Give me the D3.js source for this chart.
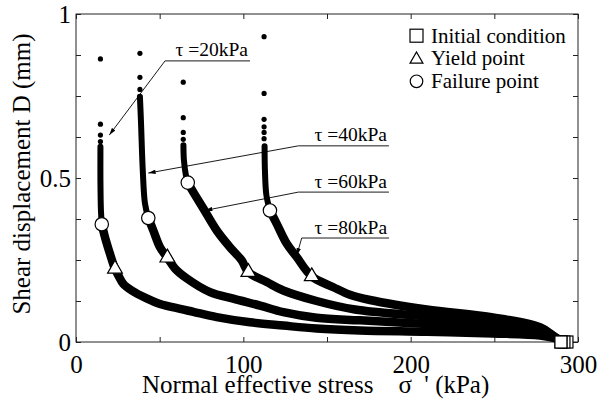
<!DOCTYPE html>
<html>
<head>
<meta charset="utf-8">
<script src="https://cdnjs.cloudflare.com/ajax/libs/d3/7.8.5/d3.min.js"></script>
<style>
body{margin:0;background:#fff;}
</style>
</head>
<body>
<div id="chart"></div>
<script>
// values, [sigma' (kPa), D (mm)], from the top of the dense part down to the start
var tau20_band=[[14.6,0.595],[14.6,0.493],[14.9,0.401],[15.4,0.359],[17.3,0.320],[20.3,0.269],[23.3,0.223],
    [25.3,0.203],[28.3,0.177],[33.3,0.157],[42.2,0.133],[50.2,0.116],[62.2,0.101],[70.1,0.092],[84.1,0.076],
    [104,0.060],[123.9,0.050],[143.8,0.041],[169.7,0.035],[209.6,0.031],[249.2,0.026],[277.3,0.020],[286.9,0.011],[293.4,0]];
var tau40_band=[[38.2,0.748],[38.8,0.676],[39.9,0.524],[41.2,0.423],[43.2,0.378],[46.2,0.340],[50.2,0.289],
    [54.6,0.257],[59.2,0.224],[66.2,0.194],[80.1,0.152],[94.0,0.132],[110,0.111],[123.9,0.091],[143.8,0.074],
    [169.7,0.066],[209.6,0.055],[249.2,0.042],[277.3,0.029],[286.3,0.014],[291.6,0]];
var tau60_band=[[64.2,0.600],[64.5,0.554],[65.7,0.508],[66.8,0.486],[70.1,0.457],[76.1,0.407],[84.1,0.340],
    [92,0.289],[99,0.249],[103,0.213],[114,0.183],[123.9,0.157],[143.8,0.125],[166.7,0.099],[209.6,0.078],
    [249.2,0.058],[277.3,0.036],[285.7,0.017],[289.8,0]];
var tau80_band=[[112.7,0.597],[112.9,0.524],[113.8,0.447],[115.9,0.401],[119.9,0.361],[125.9,0.300],[131.9,0.259],
    [140.9,0.200],[153.8,0.167],[163.7,0.144],[175.7,0.128],[209.6,0.099],[249.2,0.075],[277.3,0.045],[285,0.020],[289.8,0]];

// isolated points above the dense part
var tau20_top=[[14.6,0.863],[14.6,0.664],[14.6,0.631],[14.6,0.611]];
var tau40_top=[[38.2,0.880],[38.2,0.807],[38.2,0.770]];
var tau60_top=[[64.1,0.792],[64.1,0.684],[64.1,0.639],[64.1,0.618]];
var tau80_top=[[112.4,0.931],[112.4,0.758],[112.4,0.679],[112.4,0.656],[112.4,0.639],[112.4,0.620]];

var initial=[[293.4,0],[291.6,0],[289.8,0],[289.8,0]];
var yield_pt=[[23.3,0.223],[54.6,0.257],[103,0.213],[140.9,0.200]];
var failure=[[15.4,0.359],[43.2,0.378],[66.8,0.486],[115.9,0.401]];

// labels and their leaders
var labels=["τ =20kPa","τ =40kPa","τ =60kPa","τ =80kPa"];
var label_x0=[53.2,132.9,132.9,134.9];
var label_x1=[104.0,187,187,187.1];
var label_y=[0.857,0.598,0.457,0.317];
var arrow_tip=[[19.9,0.631],[43.2,0.515],[77.1,0.401],[131.9,0.264]];

var legend_items=["Initial condition","Yield point","Failure point"];
var x_labels=[0,100,200,300];
var y_labels=[0,0.5,1];

var bands=[tau20_band,tau40_band,tau60_band,tau80_band];
var tops=[tau20_top,tau40_top,tau60_top,tau80_top];

var serif="Liberation Serif";

// =====================
var margin = {top: 14, right: 27, bottom: 68, left: 76},
    width = 605 - margin.left - margin.right,
    height = 410 - margin.top - margin.bottom;

var root = d3.select("#chart")
    .append("svg")
    .attr("width", 605)
    .attr("height", 410)
    .style("font-family", serif);

var defs = root.append("defs");
defs.append("marker")
    .attr("id","arrow")
    .attr("viewBox","0 0 10 6")
    .attr("refX",10).attr("refY",3)
    .attr("markerWidth",8).attr("markerHeight",4.4)
    .attr("markerUnits","userSpaceOnUse")
    .attr("orient","auto")
    .append("path")
    .attr("d","M0,0L10,3L0,6Z")
    .attr("fill","#000");

var svg = root.append("g")
    .attr("transform","translate(" + margin.left + "," + margin.top + ")");

var x = d3.scaleLinear().domain([0,300]).range([0,width]);
var y = d3.scaleLinear().domain([0,1]).range([height,0]);

function style_axis(g){
    g.select(".domain").remove();
    g.selectAll(".tick line").attr("stroke","#222");
    g.attr("font-size",25).attr("font-family",null);
    g.selectAll("text").attr("fill","#000").style("font-family",serif);
}

svg.append("g")
    .attr("transform","translate(0," + height + ")")
    .call(d3.axisBottom(x).tickValues(d3.range(0,301,50)).tickSizeInner(-5).tickSizeOuter(0).tickPadding(13)
        .tickFormat(d => x_labels.includes(d) ? d : ""))
    .call(style_axis);

svg.append("g")
    .call(d3.axisTop(x).tickValues(d3.range(0,301,50)).tickSizeInner(-5).tickSizeOuter(0).tickFormat(""))
    .call(style_axis);

svg.append("g")
    .call(d3.axisLeft(y).tickValues(d3.range(0,1.001,0.125)).tickSizeInner(-5).tickSizeOuter(0).tickPadding(5)
        .tickFormat(d => y_labels.includes(d) ? d : ""))
    .call(style_axis);

svg.append("g")
    .attr("transform","translate(" + width + ",0)")
    .call(d3.axisRight(y).tickValues(d3.range(0,1.001,0.125)).tickSizeInner(-5).tickSizeOuter(0).tickFormat(""))
    .call(style_axis);

svg.append("rect")
    .attr("x",0).attr("y",0)
    .attr("width",width).attr("height",height)
    .attr("fill","none")
    .attr("stroke","#222")
    .attr("stroke-width",1);

// axis titles
root.append("text")
    .attr("x",142).attr("y",393)
    .attr("font-size",25)
    .style("font-family",serif)
    .style("white-space","pre")
    .attr("fill","#000")
    .text("Normal effective stress    σ  ' (kPa)");

root.append("text")
    .attr("transform","translate(30,174) rotate(-90)")
    .attr("text-anchor","middle")
    .attr("font-size",25)
    .style("font-family",serif)
    .attr("fill","#000")
    .text("Shear displacement D (mm)");

// dense bands
var line = d3.line()
    .x(d => x(d[0]))
    .y(d => y(d[1]))
    .curve(d3.curveCatmullRom.alpha(0.5));

bands.forEach(function(band,i){
    var f = failure[i];
    var upper = band.filter(p => p[1] >= f[1]);
    var lower = band.filter(p => p[1] <= f[1]);
    svg.append("path")
        .datum(lower)
        .attr("fill","none").attr("stroke","#000")
        .attr("stroke-width",8.5)
        .attr("stroke-linecap","round").attr("stroke-linejoin","round")
        .attr("d",line);
    svg.append("path")
        .datum(upper)
        .attr("fill","none").attr("stroke","#000")
        .attr("stroke-width",6)
        .attr("stroke-linecap","round").attr("stroke-linejoin","round")
        .attr("d",line);
    svg.selectAll(null)
        .data(tops[i])
        .enter().append("circle")
        .attr("cx",d => x(d[0])).attr("cy",d => y(d[1]))
        .attr("r",2.6).attr("fill","#000");
});

// leaders and labels
labels.forEach(function(lab,i){
    var pts = [[label_x1[i],label_y[i]],[label_x0[i],label_y[i]],arrow_tip[i]];
    svg.append("path")
        .attr("d",d3.line().x(d => x(d[0])).y(d => y(d[1]))(pts))
        .attr("fill","none").attr("stroke","#000").attr("stroke-width",0.9)
        .attr("marker-end","url(#arrow)");
    svg.append("text")
        .attr("x",x(label_x1[i]) - 2)
        .attr("y",y(label_y[i]) - 4.5)
        .attr("text-anchor","end")
        .attr("font-size",19.5)
        .style("font-family",serif)
        .style("white-space","pre")
        .text(lab);
});

// markers
var tri = d3.symbol().type(d3.symbolTriangle).size(95);
svg.selectAll(null).data(yield_pt).enter().append("path")
    .attr("transform",d => "translate(" + x(d[0]) + "," + y(d[1]) + ")")
    .attr("d",tri)
    .attr("fill","#fff").attr("stroke","#000").attr("stroke-width",1.2);

svg.selectAll(null).data(failure).enter().append("circle")
    .attr("cx",d => x(d[0])).attr("cy",d => y(d[1]))
    .attr("r",6.7)
    .attr("fill","#fff").attr("stroke","#000").attr("stroke-width",1.2);

svg.selectAll(null).data(initial).enter().append("rect")
    .attr("x",d => x(d[0]) - 6).attr("y",d => y(d[1]) - 6)
    .attr("width",12).attr("height",12)
    .attr("fill","#fff").attr("stroke","#000").attr("stroke-width",1.2);

// legend
var lg = svg.append("g").attr("transform","translate(340.5,28.7)");
var row = 22.8;
lg.append("rect")
    .attr("x",-6.5).attr("y",-13.5).attr("width",13).attr("height",13)
    .attr("fill","#fff").attr("stroke","#000").attr("stroke-width",1.2);
lg.append("path")
    .attr("transform","translate(0," + (row - 6) + ")")
    .attr("d",d3.symbol().type(d3.symbolTriangle).size(72))
    .attr("fill","#fff").attr("stroke","#000").attr("stroke-width",1.2);
lg.append("circle")
    .attr("cx",0).attr("cy",2*row - 7).attr("r",6.3)
    .attr("fill","#fff").attr("stroke","#000").attr("stroke-width",1.2);
lg.selectAll("text").data(legend_items).enter().append("text")
    .attr("x",14.5)
    .attr("y",(d,i) => i*row)
    .attr("font-size",21)
    .style("font-family",serif)
    .text(d => d);
</script>
</body>
</html>
